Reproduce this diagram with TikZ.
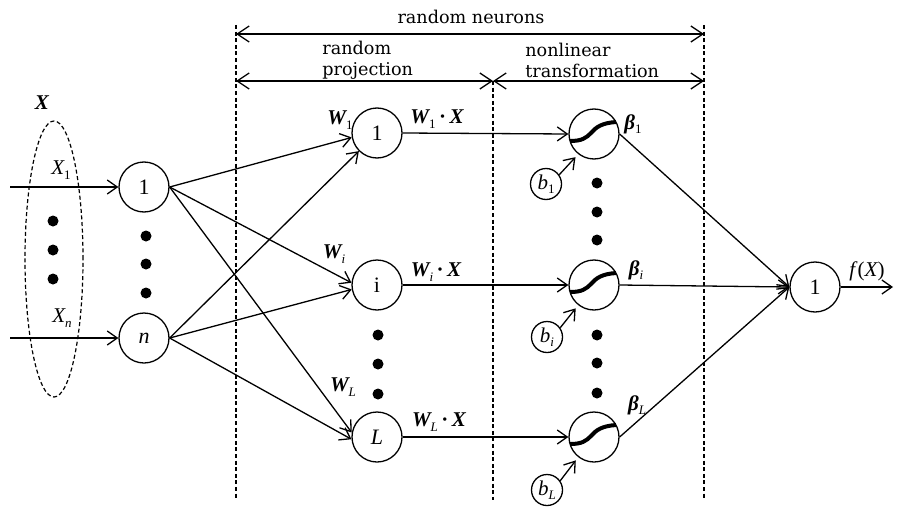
\documentclass[tikz,border=0pt]{standalone}
\usepackage{fontspec}
\setmainfont{DejaVu Serif}
\newfontfamily\tms{Liberation Serif}
\usetikzlibrary{arrows.meta,shapes.geometric}
\newcommand{\myW}{{\tms\bfseries\itshape W}}
\newcommand{\myX}{{\tms\bfseries\itshape X}}
\newcommand{\myB}{{\tms\bfseries\itshape β}}
\newcommand{\mysub}[1]{\raisebox{-0.45ex}{\fontsize{6.5}{7}\selectfont\tms\mdseries\upshape #1}}
\newcommand{\mydot}{\,{\tms\bfseries\raisebox{0.05ex}{·}}\,}
\begin{document}
\begin{tikzpicture}[x=0.5pt,y=-0.5pt,
  neuron/.style={circle,draw,line width=0.65pt,minimum size=25pt,inner sep=0pt,font=\tms\fontsize{11}{11}\selectfont},
  bias/.style={circle,draw,line width=0.65pt,minimum size=15.5pt,inner sep=0pt,font=\tms\fontsize{10.5}{10.5}\selectfont},
  conn/.style={line width=0.65pt,-{Straight Barb[length=5pt,width=7pt]}},
  fine/.style={dash pattern=on 2pt off 1.3pt,line width=0.6pt},
  guide/.style={fine},
  span/.style={line width=0.65pt,{Straight Barb[length=6pt,width=8pt]}-{Straight Barb[length=6pt,width=8pt]}},
  lbl/.style={font=\fontsize{8.8}{10.5}\selectfont,inner sep=0pt},
  mlbl/.style={font=\tms\fontsize{10.5}{11}\selectfont,inner sep=0pt},
  blob/.style={circle,fill,inner sep=0pt,minimum size=5.5pt},
  sigline/.style={line width=2pt}]
\useasboundingbox (0,0) rectangle (898,508);

% input ellipse
\node[ellipse,draw,fine,minimum width=29pt,minimum height=138pt,inner sep=0pt] (xin) at (54,259) {};
\node[mlbl] (xlab) at (42,103) {\myX};

% nodes
\node[neuron] (in1) at (144,187) {1};
\node[neuron] (inn) at (144,338) {\itshape n};
\node[neuron] (h1) at (377,133) {1};
\node[neuron] (hi) at (377,285) {i};
\node[neuron] (hL) at (377,437) {\itshape L};
\node[neuron] (s1) at (594,134) {};
\node[neuron] (si) at (594,285) {};
\node[neuron] (sL) at (594,437) {};
\node[bias] (b1) at (546,184) {\itshape b\mysub{1}};
\node[bias] (bi) at (547,337) {\itshape b\mysub{\itshape i}};
\node[bias] (bL) at (547,490) {\itshape b\mysub{\itshape L}};
\node[neuron] (out) at (815,287) {1};

% coordinates
\coordinate (x1s) at (10,187);
\coordinate (xns) at (10,338);
\coordinate (oute) at (893,287);
\coordinate (g1t) at (236,25);  \coordinate (g1b) at (236,500);
\coordinate (g2t) at (493,81);  \coordinate (g2b) at (493,500);
\coordinate (g3t) at (704,25);  \coordinate (g3b) at (704,500);
\coordinate (a1l) at (236,34);  \coordinate (a1r) at (704,34);
\coordinate (a2l) at (236,81);  \coordinate (a2m) at (493,81); \coordinate (a2r) at (704,81);

% guides
\draw[guide] (g1t) -- (g1b);
\draw[guide] (g2t) -- (g2b);
\draw[guide] (g3t) -- (g3b);
\draw[span] (a1l) -- (a1r);
\draw[span] (a2l) -- (a2m);
\draw[span] (a2m) -- (a2r);
\node[lbl] (rn) at (471,17) {random neurons};
\node[lbl,align=left,anchor=west] (rp) at (322,60) {random\\projection};
\node[lbl,align=left,anchor=west] (nt) at (525,60) {nonlinear\\transformation};

% dots
\foreach \y in {221,250,279} \node[blob] at (53,\y) {};
\foreach \y in {236,264,293} \node[blob] at (146,\y) {};
\foreach \y in {335,364,394} \node[blob] at (378,\y) {};
\foreach \y in {183,212,240,335,363,393} \node[blob] at (597,\y) {};

% input arrows
\draw[conn] (x1s) -- (in1);
\draw[conn] (xns) -- (inn);
\node[mlbl] (x1lab) at (61,170) {\itshape X\mysub{1}};
\node[mlbl] (xnlab) at (62,318) {\itshape X\mysub{\itshape n}};

% input to hidden
\draw[conn] (in1.east) -- (h1.190);
\draw[conn] (in1.east) -- (hi.175);
\draw[conn] (in1.east) -- (hL.170);
\draw[conn] (inn.east) -- (h1.225);
\draw[conn] (inn.east) -- (hi.190);
\draw[conn] (inn.east) -- (hL.185);

\node[mlbl] (w1) at (340,120) {\myW\mysub{1}};
\node[mlbl] (wi) at (334,254) {\myW\mysub{\itshape i}};
\node[mlbl] (wl) at (343,387) {\myW\mysub{\itshape L}};

% hidden to sigmoid
\draw[conn] (h1.east) -- (s1.west);
\draw[conn] (hi.east) -- (si.west);
\draw[conn] (hL.east) -- (sL.west);
\node[mlbl] (w1x) at (437,119) {\myW\mysub{1}\mydot\myX};
\node[mlbl] (wix) at (436,272) {\myW\mysub{\itshape i}\mydot\myX};
\node[mlbl] (wlx) at (439,422) {\myW\mysub{\itshape L}\mydot\myX};

% sigmoid curves
\foreach \n in {s1,si,sL}
  \draw[sigline,shift={(\n.center)}] (-24,7) .. controls (-12,7) and (-8,4) .. (-3,-1) .. controls (2,-7) and (8,-11) .. (22,-12);

% bias arrows
\draw[conn,shorten >=2pt] (b1.35) -- (s1.232);
\draw[conn,shorten >=2pt] (bi.35) -- (si.232);
\draw[conn,shorten >=2pt] (bL.35) -- (sL.232);

% sigmoid to output
\draw[conn] (s1.east) -- (out.west);
\draw[conn] (si.east) -- (out.west);
\draw[conn] (sL.east) -- (out.west);
\node[mlbl] (be1) at (633,124) {\myB\mysub{1}};
\node[mlbl] (bei) at (636,270) {\myB\mysub{\itshape i}};
\node[mlbl] (bel) at (637,405) {\myB\mysub{\itshape L}};

% output
\draw[conn] (out.east) -- (oute);
\node[mlbl] (fx) at (867,271) {\itshape f\/\upshape(\itshape X\upshape)};
\end{tikzpicture}
\end{document}
